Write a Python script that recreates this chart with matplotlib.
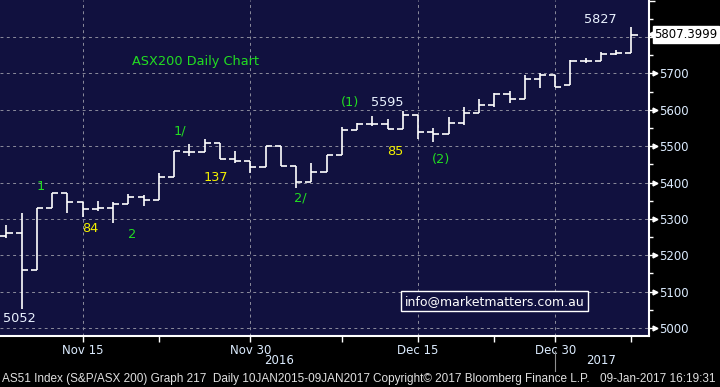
import matplotlib
matplotlib.use('Agg')
import matplotlib.pyplot as plt
import matplotlib.transforms as mtransforms
import numpy as np

# ASX200 daily bars, 8 Nov 2016 - 9 Jan 2017
dates = ['Nov 8', 'Nov 9', 'Nov 10', 'Nov 11', 'Nov 14', 'Nov 15', 'Nov 16', 'Nov 17',
         'Nov 18', 'Nov 21', 'Nov 22', 'Nov 23', 'Nov 24', 'Nov 25', 'Nov 28', 'Nov 29',
         'Nov 30', 'Dec 1', 'Dec 2', 'Dec 5', 'Dec 6', 'Dec 7', 'Dec 8', 'Dec 9',
         'Dec 12', 'Dec 13', 'Dec 14', 'Dec 15', 'Dec 16', 'Dec 19', 'Dec 20', 'Dec 21',
         'Dec 22', 'Dec 23', 'Dec 28', 'Dec 29', 'Dec 30', 'Jan 3', 'Jan 4', 'Jan 5',
         'Jan 6', 'Jan 9']
opens = [5253, 5260, 5159, 5329, 5370, 5346, 5326, 5329, 5340, 5360, 5351, 5414, 5485, 5485,
         5508, 5464, 5458, 5442, 5500, 5445, 5401, 5429, 5477, 5544, 5561, 5562, 5546, 5587,
         5539, 5533, 5563, 5590, 5612, 5643, 5629, 5684, 5697, 5667, 5733, 5734, 5753, 5755]
highs = [5283, 5315, 5329, 5372, 5372, 5346, 5349, 5347, 5368, 5366, 5425, 5487, 5506, 5521,
         5508, 5487, 5458, 5500, 5500, 5445, 5453, 5477, 5552, 5565, 5583, 5574, 5596, 5587,
         5551, 5579, 5607, 5629, 5645, 5651, 5695, 5700, 5697, 5737, 5742, 5758, 5764, 5828]
lows = [5248, 5052, 5159, 5329, 5317, 5306, 5323, 5289, 5340, 5336, 5351, 5414, 5474, 5485,
        5464, 5455, 5425, 5442, 5445, 5386, 5401, 5429, 5477, 5544, 5555, 5546, 5546, 5521,
        5512, 5533, 5558, 5590, 5607, 5620, 5629, 5660, 5663, 5667, 5729, 5734, 5750, 5755]
closes = [5260, 5159, 5329, 5370, 5346, 5326, 5329, 5340, 5360, 5351, 5414, 5487, 5485, 5508,
          5464, 5458, 5442, 5500, 5445, 5401, 5428, 5477, 5544, 5561, 5562, 5546, 5587, 5538,
          5533, 5563, 5590, 5612, 5643, 5629, 5684, 5697, 5663, 5734, 5734, 5753, 5755, 5807]
last_price = 5807.3999

tick_dates = ['Nov 15', 'Nov 30', 'Dec 15', 'Dec 30']
minor_dates = ['Nov 22', 'Dec 8', 'Dec 22', 'Jan 9']
price_ticks = [5000, 5100, 5200, 5300, 5400, 5500, 5600, 5700]

# wave counts / labels: (text, date index, price, kind)
notes = [('1', 2.26, 5390, 'g'), ('1/', 11.4, 5541, 'g'), ('2', 8.23, 5258, 'g'),
         ('2/', 19.27, 5357, 'g'), ('(1)', 22.55, 5620, 'g'), ('(2)', 28.5, 5462, 'g'),
         ('84', 5.5, 5274, 'y'), ('137', 13.76, 5414, 'y'), ('85', 25.5, 5485, 'y'),
         ('5052', 0.87, 5025, 'w'), ('5595', 24.96, 5620, 'w'), ('5827', 38.96, 5849, 'w')]
note_colors = {'g': '#22dd22', 'y': '#f2f000', 'w': '#eaf2ff'}

navy = '#11113f'
label_col = '#dcecff'
grid_col = '#8c8c9c'

fig = plt.figure(figsize=(7.2, 3.87), dpi=100, facecolor='black')
ax = fig.add_axes([0, 51 / 387, 649 / 720, 336 / 387])
ax.set_facecolor(navy)

x = np.arange(len(dates))
ax.vlines(x, lows, highs, color='white', lw=1.2)
ax.hlines(opens, x - 0.4, x, color='white', lw=1.2)
ax.hlines(closes, x, x + 0.4, color='white', lw=1.2)

ax.set_xlim(-0.42, 42.15)
ax.set_ylim(4978, 5902)

# axes / ticks
for s in ['left', 'top']:
    ax.spines[s].set_visible(False)
for s in ['right', 'bottom']:
    ax.spines[s].set_color('white')
    ax.spines[s].set_linewidth(1.5)

ax.yaxis.tick_right()
ax.set_yticks(range(5000, 5901, 100))
ax.set_yticklabels([str(p) if p in price_ticks else '' for p in range(5000, 5901, 100)])
ax.set_yticks(range(5050, 5900, 100), minor=True)
ax.tick_params(axis='y', which='major', colors='white', labelcolor=label_col,
               length=4, width=1, pad=3, labelsize=8.5)
ax.tick_params(axis='y', which='minor', colors='white', length=3, width=1)

ax.set_xticks([dates.index(d) for d in tick_dates])
ax.set_xticklabels(tick_dates)
ax.set_xticks([dates.index(d) for d in minor_dates], minor=True)
ax.tick_params(axis='x', which='major', colors='white', labelcolor=label_col,
               length=4, width=1, pad=2, labelsize=8.5)
ax.tick_params(axis='x', which='minor', colors='white', length=4, width=1)

# arrow heads on price ticks
ax.plot([42.55] * len(price_ticks), price_ticks, marker='>', ms=3.5, color='white',
        lw=0, clip_on=False)

# grid
for p in range(5000, 5801, 100):
    ax.axhline(p, color=grid_col, lw=0.7, ls=(0, (3, 3.5)), zorder=0)
for d in tick_dates:
    ax.axvline(dates.index(d), color=grid_col, lw=0.7, ls=(0, (3, 3.5)), zorder=0)

# year row
trans = mtransforms.blended_transform_factory(ax.transData, ax.transAxes)
ax.text(17.9, -0.074, '2016', transform=trans, color=label_col, fontsize=8.5,
        ha='center', va='center')
ax.text(39.0, -0.074, '2017', transform=trans, color=label_col, fontsize=8.5,
        ha='center', va='center')
ax.plot([dates.index('Dec 30')] * 2, [-0.045, -0.105], transform=trans, color='#909090',
        lw=0.8, clip_on=False)

# chart texts
ax.text(12.4, 5734, 'ASX200 Daily Chart', color='#22dd22', fontsize=9.3,
        ha='center', va='center')
for txt, xi, yi, kind in notes:
    ax.text(xi, yi, txt, color=note_colors[kind], fontsize=9.3, ha='center', va='center')

ax.text(32.0, 5074, 'info@marketmatters.com.au', color='white', fontsize=9,
        ha='center', va='center',
        bbox=dict(boxstyle='square,pad=0.3', fc=navy, ec='white', lw=1))

# last price tag
ax.plot([42.35], [last_price], marker='<', ms=6, color='white', lw=0, clip_on=False)
ax.text(42.5, last_price, '%.4f' % last_price, color='black', fontsize=8.5,
        ha='left', va='center', clip_on=False,
        bbox=dict(boxstyle='square,pad=0.15', fc='white', ec='white'))

# footer
foot = dict(color='#e0e0e0', fontsize=8.5, va='center', family='Liberation Sans')
fig.text(0.003, 0.021, 'AS51 Index (S&P/ASX 200) Graph 217  Daily 10JAN2015-09JAN2017',
         ha='left', **foot)
fig.text(373 / 720, 0.021, 'Copyright\u00a9 2017 Bloomberg Finance L.P.', ha='left', **foot)
fig.text(716 / 720, 0.021, '09-Jan-2017 16:19:31', ha='right', **foot)

fig.savefig('out.png', dpi=100, facecolor='black')
